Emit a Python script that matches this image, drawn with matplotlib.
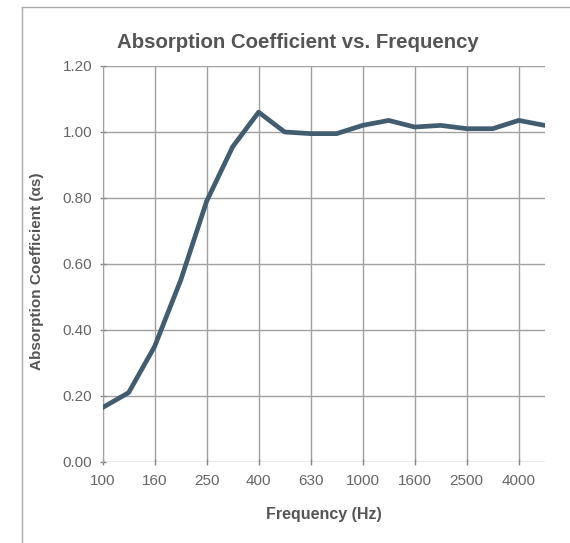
import matplotlib
matplotlib.use("Agg")
import matplotlib.pyplot as plt
from matplotlib.lines import Line2D

bands = ["100", "125", "160", "200", "250", "315", "400", "500", "630", "800",
         "1000", "1250", "1600", "2000", "2500", "3150", "4000", "5000"]
alpha = [0.165, 0.21, 0.35, 0.55, 0.79, 0.955, 1.06, 1.00, 0.995, 0.995,
         1.02, 1.035, 1.015, 1.02, 1.01, 1.01, 1.035, 1.02]
tick_labels = ["100", "160", "250", "400", "630", "1000", "1600", "2500", "4000"]
y_ticks = [0.0, 0.2, 0.4, 0.6, 0.8, 1.0, 1.2]

plt.rcParams['font.family'] = ['Liberation Sans', 'DejaVu Sans']

fig = plt.figure(figsize=(5.70, 5.43), dpi=100)
ax = fig.add_axes([0.180, 0.1492, 0.9556 - 0.180, 0.8785 - 0.1492])

x = list(range(len(bands)))
ax.plot(x, alpha, color='#425d6f', lw=3.4, solid_joinstyle='round', zorder=3)

ax.set_xlim(0, len(bands) - 1)
ax.set_ylim(0, 1.2)
tick_pos = [bands.index(t) for t in tick_labels]
ax.set_xticks(tick_pos)
ax.set_xticklabels(tick_labels)
ax.set_yticks(y_ticks)
ax.set_yticklabels([f"{v:.2f}" for v in y_ticks])

ax.grid(True, color='#a0a0a0', lw=1.0)
ax.set_axisbelow(True)
for s in ['top', 'right', 'bottom']:
    ax.spines[s].set_visible(False)
ax.spines['left'].set_color('#a0a0a0')
ax.tick_params(axis='both', colors='#888888', labelcolor='#666666', labelsize=11,
               length=5, width=1.0, direction='inout')
ax.tick_params(axis='x', pad=6)
ax.tick_params(axis='y', pad=5)

ax.set_title("Absorption Coefficient vs. Frequency", fontsize=14.7, fontweight='bold',
             color='#555555', pad=13, x=0.441)
ax.set_xlabel("Frequency (Hz)", fontsize=11.5, fontweight='bold', color='#555555', labelpad=14)
ax.set_ylabel("Absorption Coefficient (αs)", fontsize=11, fontweight='bold', color='#555555')
ax.yaxis.set_label_coords(-0.133, 0.482)

# scanned frame lines
W, H = 570, 543
fig.add_artist(Line2D([22 / W, 1.0], [1 - 7 / H, 1 - 7 / H], color='#aaaaaa', lw=1.0))
fig.add_artist(Line2D([22 / W, 22 / W], [1 - 7 / H, 0.0], color='#aaaaaa', lw=1.0))

fig.savefig("out.png", dpi=100)
